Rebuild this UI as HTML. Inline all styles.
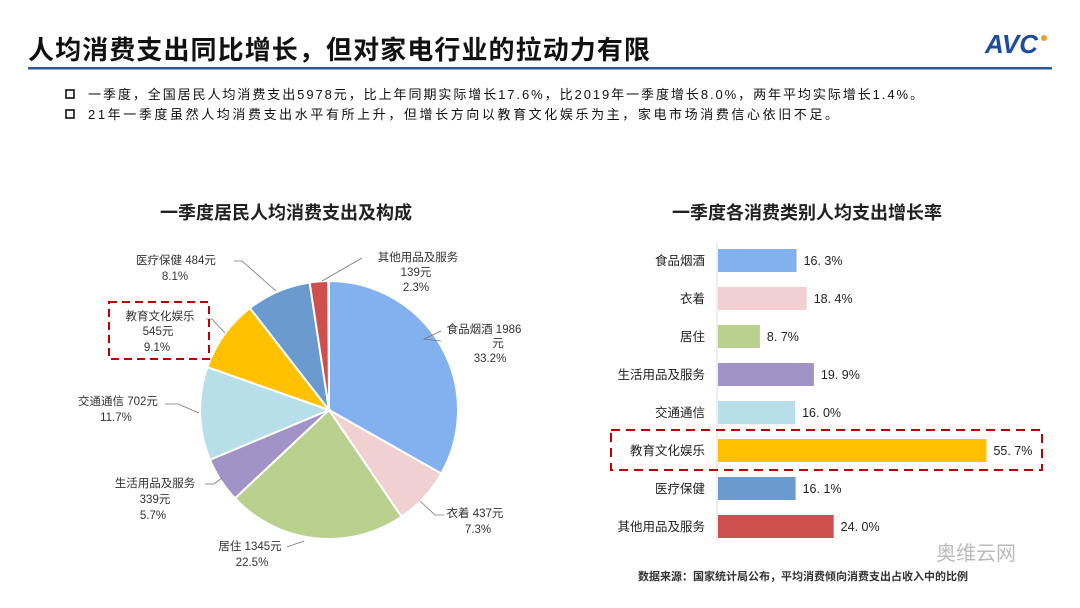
<!DOCTYPE html>
<html><head><meta charset="utf-8">
<style>
body{margin:0;width:1080px;height:608px;background:#fff;overflow:hidden;font-family:"Liberation Sans","Noto Sans CJK SC",sans-serif;}
svg{position:absolute;left:0;top:0}
</style></head><body>
<svg id="s" width="1080" height="608" font-family="Liberation Sans, Noto Sans CJK SC, sans-serif">
<text x="28" y="59" font-size="26" font-weight="bold" fill="#111" textLength="622">人均消费支出同比增长，但对家电行业的拉动力有限</text>
<text x="985" y="53" font-size="26" font-weight="bold" font-style="italic" fill="#1c4da1">AVC</text>
<circle cx="1044" cy="38" r="3" fill="#f0a020"/>
<rect x="28" y="67" width="1024" height="2.5" fill="#2e5597"/>
<rect x="66" y="90" width="8" height="8" fill="none" stroke="#111" stroke-width="1.6"/>
<text x="88" y="99" font-size="13" fill="#111" textLength="835">一季度，全国居民人均消费支出5978元，比上年同期实际增长17.6%，比2019年一季度增长8.0%，两年平均实际增长1.4%。</text>
<rect x="66" y="110" width="8" height="8" fill="none" stroke="#111" stroke-width="1.6"/>
<text x="88" y="119" font-size="13" fill="#111" textLength="750">21年一季度虽然人均消费支出水平有所上升，但增长方向以教育文化娱乐为主，家电市场消费信心依旧不足。</text>
<text x="160" y="219" font-size="18" font-weight="bold" fill="#222">一季度居民人均消费支出及构成</text>
<text x="672" y="219" font-size="18" font-weight="bold" fill="#222">一季度各消费类别人均支出增长率</text>
<g id="pie"></g>
<g font-size="11.5" fill="#333" text-anchor="middle">
<text x="484" y="333">食品烟酒 1986</text><text x="498" y="347">元</text><text x="490" y="362">33.2%</text>
<text x="475" y="517">衣着 437元</text><text x="478" y="533">7.3%</text>
<text x="250" y="550">居住 1345元</text><text x="252" y="566">22.5%</text>
<text x="155" y="487">生活用品及服务</text><text x="155" y="503">339元</text><text x="153" y="519">5.7%</text>
<text x="118" y="405">交通通信 702元</text><text x="116" y="421">11.7%</text>
<text x="160" y="320">教育文化娱乐</text><text x="158" y="335">545元</text><text x="157" y="351">9.1%</text>
<text x="176" y="264">医疗保健 484元</text><text x="175" y="280">8.1%</text>
<text x="418" y="261">其他用品及服务</text><text x="416" y="276">139元</text><text x="416" y="291">2.3%</text>
</g>
<g stroke="#777" fill="none" stroke-width="0.8">
<polyline points="441,331 424,339 441,341"/>
<polyline points="420,501 435,515 444,515"/>
<polyline points="287,547 304,541"/>
<polyline points="205,484 214,484 222,478"/>
<polyline points="165,404 178,404 199,413"/>
<polyline points="206,319 212,319 225,333"/>
<polyline points="234,261 242,261 276,291"/>
<polyline points="362,258 322,281"/>
</g>
<rect x="109" y="302" width="100" height="57" fill="none" stroke="#c00000" stroke-width="2" stroke-dasharray="8,5"/>
<line x1="717" y1="243" x2="717" y2="540" stroke="#ddd" stroke-width="1"/>
<g id="bars" font-size="12.5"></g>
<rect x="611" y="430" width="431" height="40" fill="none" stroke="#c00000" stroke-width="2" stroke-dasharray="9,6"/>
<text x="638" y="580" font-size="11" font-weight="bold" fill="#333">数据来源：国家统计局公布，平均消费倾向消费支出占收入中的比例</text>
<text x="936" y="560" font-size="20" fill="#bbb">奥维云网</text>
</svg>
<script>
var NS="http://www.w3.org/2000/svg";
var d=[[33.2,"#83b1ef"],[7.3,"#f0d0d0"],[22.5,"#bad08f"],[5.7,"#a293c6"],[11.7,"#b6dfea"],[9.1,"#ffc000"],[8.1,"#6a9ace"],[2.3,"#cf4f4f"]];
var cx=329,cy=410,r=129,a=0,g=document.getElementById("pie");
d.forEach(function(e){var a2=a+e[0]/100*2*Math.PI;
var x1=cx+r*Math.sin(a),y1=cy-r*Math.cos(a),x2=cx+r*Math.sin(a2),y2=cy-r*Math.cos(a2);
var p=document.createElementNS(NS,"path");
p.setAttribute("d","M"+cx+","+cy+"L"+x1+","+y1+"A"+r+","+r+" 0 "+((a2-a)>Math.PI?1:0)+" 1 "+x2+","+y2+"Z");
p.setAttribute("fill",e[1]);p.setAttribute("stroke","#fff");p.setAttribute("stroke-width","2");g.appendChild(p);a=a2;});
var b=[["食品烟酒",16.3,"#83b1ef"],["衣着",18.4,"#f0d0d0"],["居住",8.7,"#bad08f"],["生活用品及服务",19.9,"#a293c6"],["交通通信",16.0,"#b6dfea"],["教育文化娱乐",55.7,"#ffc000"],["医疗保健",16.1,"#6a9ace"],["其他用品及服务",24.0,"#cf4f4f"]];
var bg=document.getElementById("bars");
b.forEach(function(e,i){var y=249+i*38,w=e[1]*4.82;
var r=document.createElementNS(NS,"rect");r.setAttribute("x",718);r.setAttribute("y",y);r.setAttribute("width",w);r.setAttribute("height",23);r.setAttribute("fill",e[2]);bg.appendChild(r);
var t=document.createElementNS(NS,"text");t.setAttribute("x",705);t.setAttribute("y",y+16);t.setAttribute("text-anchor","end");t.setAttribute("fill","#222");t.textContent=e[0];bg.appendChild(t);
var v=document.createElementNS(NS,"text");v.setAttribute("x",718+w+7);v.setAttribute("y",y+16);v.setAttribute("fill","#222");v.textContent=e[1].toFixed(1).replace("."," . ").replace(" . ",". ")+"%";bg.appendChild(v);});
</script>
</body></html>
